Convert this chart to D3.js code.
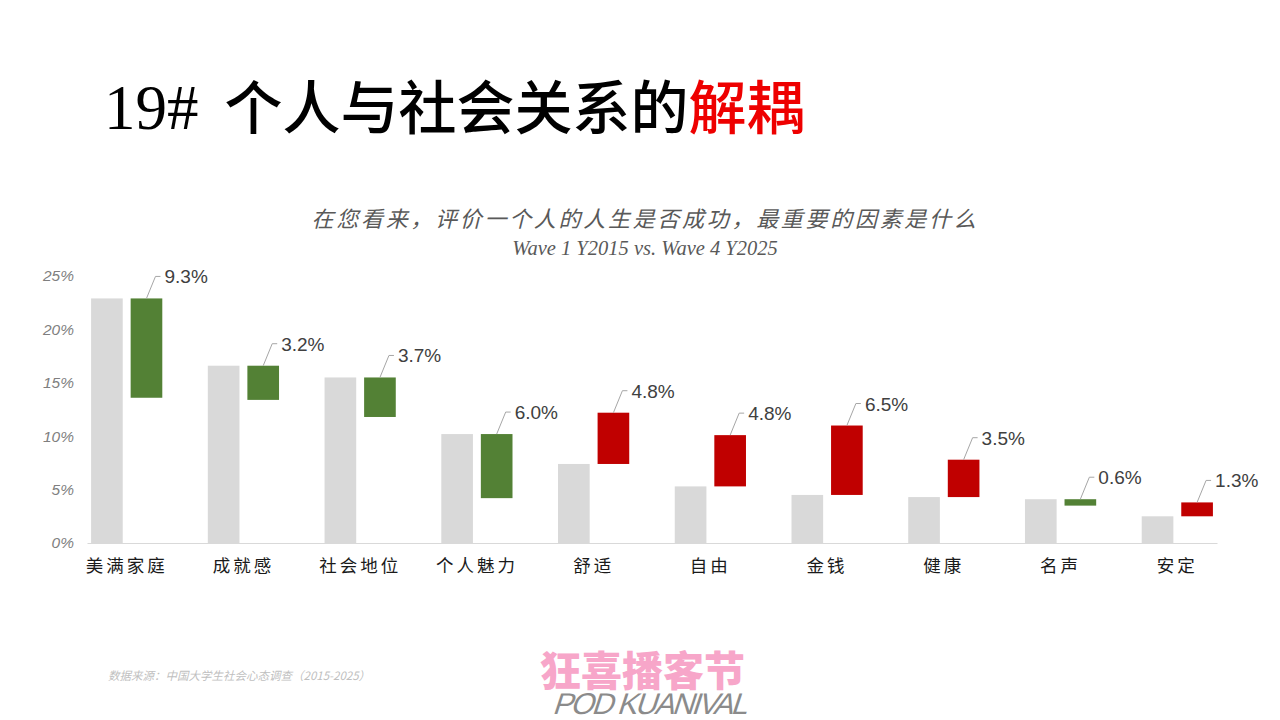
<!DOCTYPE html>
<html>
<head>
<meta charset="utf-8">
<script src="https://cdn.jsdelivr.net/npm/d3@7"></script>
<style>
  body { margin: 0; background: #fff; }
  svg { display: block; }
</style>
</head>
<body>
<div id="plot"></div>
<script>
// chart data
const categories = ["美满家庭", "成就感", "社会地位", "个人魅力", "舒适", "自由", "金钱", "健康", "名声", "安定"];
const wave1 = [22.9, 16.6, 15.5, 10.2, 7.4, 5.3, 4.5, 4.3, 4.1, 2.5];   // Y2015 (%)
const wave4 = [13.6, 13.4, 11.8, 4.2, 12.2, 10.1, 11.0, 7.8, 3.5, 3.8]; // Y2025 (%)
const yTicks = [0, 5, 10, 15, 20, 25];

const width = 1280, height = 720;
const plot = {left: 87, right: 1217, top: 276, bottom: 543};

const svg = d3.select("div#plot")
  .append("svg")
    .attr("width", width)
    .attr("height", height);

// title
const title = svg.append("text")
    .attr("x", 104)
    .attr("y", 129)
    .attr("font-size", 58);
title.append("tspan")
    .attr("font-family", "Liberation Serif, serif")
    .attr("font-size", 63)
    .attr("fill", "#000")
    .text("19#");
title.append("tspan")
    .attr("dx", 26)
    .attr("font-family", "Noto Sans CJK SC")
    .attr("font-weight", 500)
    .attr("fill", "#000")
    .text("个人与社会关系的");
title.append("tspan")
    .attr("font-family", "Noto Sans CJK SC")
    .attr("font-weight", 500)
    .attr("fill", "#ee0000")
    .text("解耦");

// chart subtitle
svg.append("text")
    .attr("x", 645)
    .attr("y", 227)
    .attr("text-anchor", "middle")
    .attr("font-family", "Noto Sans CJK SC")
    .attr("font-style", "italic")
    .attr("font-size", 22)
    .attr("letter-spacing", 2.7)
    .attr("fill", "#595959")
    .text("在您看来，评价一个人的人生是否成功，最重要的因素是什么");

svg.append("text")
    .attr("x", 645)
    .attr("y", 255)
    .attr("text-anchor", "middle")
    .attr("font-family", "Liberation Serif, serif")
    .attr("font-style", "italic")
    .attr("font-size", 20.5)
    .attr("fill", "#595959")
    .text("Wave 1 Y2015 vs. Wave 4 Y2025");

// scales
const x0 = d3.scaleBand()
    .domain(categories)
    .range([plot.left, plot.right])
    .paddingInner(0.39)
    .paddingOuter(0.035);

const x1 = d3.scaleBand()
    .domain(["w1", "w4"])
    .range([0, x0.bandwidth()])
    .paddingInner(0.2);

const y = d3.scaleLinear()
    .domain([0, 25])
    .range([plot.bottom, plot.top]);

// y axis
svg.append("g")
    .attr("transform", `translate(${plot.left},0)`)
    .call(d3.axisLeft(y).tickValues(yTicks).tickSize(0).tickPadding(13).tickFormat(d => d + "%"))
    .call(g => g.select(".domain").remove())
    .call(g => g.selectAll("text")
        .attr("font-family", "Liberation Sans, Arial, sans-serif")
        .attr("font-style", "italic")
        .attr("font-size", 15.5)
        .attr("fill", "#7f7f7f"));

// x axis
svg.append("g")
    .attr("transform", `translate(0,${plot.bottom})`)
    .call(d3.axisBottom(x0).tickSize(0).tickPadding(17))
    .call(g => g.select(".domain").attr("stroke", "#d9d9d9").attr("stroke-width", 1.2))
    .call(g => g.selectAll("text")
        .attr("font-family", "Noto Sans CJK SC")
        .attr("font-size", 17.5)
        .attr("letter-spacing", 3)
        .attr("fill", "#1a1a1a"));

const rows = categories.map((c, i) => ({cat: c, w1: wave1[i], w4: wave4[i]}));

// 2015 bars
svg.append("g")
  .selectAll("rect")
  .data(rows)
  .join("rect")
    .attr("x", d => x0(d.cat) + x1("w1"))
    .attr("y", d => y(d.w1))
    .attr("width", x1.bandwidth())
    .attr("height", d => y(0) - y(d.w1))
    .attr("fill", "#d9d9d9");

// change bars: from 2015 level to 2025 level
svg.append("g")
  .selectAll("rect")
  .data(rows)
  .join("rect")
    .attr("x", d => x0(d.cat) + x1("w4"))
    .attr("y", d => y(Math.max(d.w1, d.w4)))
    .attr("width", x1.bandwidth())
    .attr("height", d => Math.abs(y(d.w1) - y(d.w4)))
    .attr("fill", d => d.w4 < d.w1 ? "#538135" : "#c00000");

// data labels with leader lines
const labels = svg.append("g")
  .selectAll("g")
  .data(rows)
  .join("g")
    .attr("transform", d => `translate(${x0(d.cat) + x1("w4") + x1.bandwidth() / 2},${y(Math.max(d.w1, d.w4))})`);

labels.append("path")
    .attr("d", "M0,0L9,-22L14,-22")
    .attr("fill", "none")
    .attr("stroke", "#a6a6a6")
    .attr("stroke-width", 1);

labels.append("text")
    .attr("x", 18)
    .attr("y", -15)
    .attr("font-family", "Liberation Sans, Arial, sans-serif")
    .attr("font-size", 19)
    .attr("fill", "#404040")
    .text(d => Math.abs(d.w1 - d.w4).toFixed(1) + "%");

// source note
svg.append("text")
    .attr("x", 108)
    .attr("y", 680)
    .attr("font-family", "Noto Sans CJK SC")
    .attr("font-style", "italic")
    .attr("font-size", 11.5)
    .attr("fill", "#bfbfbf")
    .text("数据来源：中国大学生社会心态调查（2015-2025）");

// logo
svg.append("text")
    .attr("x", 540)
    .attr("y", 686)
    .attr("font-family", "Noto Sans CJK SC")
    .attr("font-weight", 900)
    .attr("font-size", 41)
    .attr("fill", "#f7a6c9")
    .text("狂喜播客节");

svg.append("text")
    .attr("transform", "translate(552,714) skewX(-18)")
    .attr("font-family", "Liberation Sans, Arial, sans-serif")
    .attr("font-size", 30)
    .attr("textLength", 195)
    .attr("fill", "#7f7f7f")
    .attr("opacity", 0.9)
    .text("POD KUANIVAL");
</script>
</body>
</html>
